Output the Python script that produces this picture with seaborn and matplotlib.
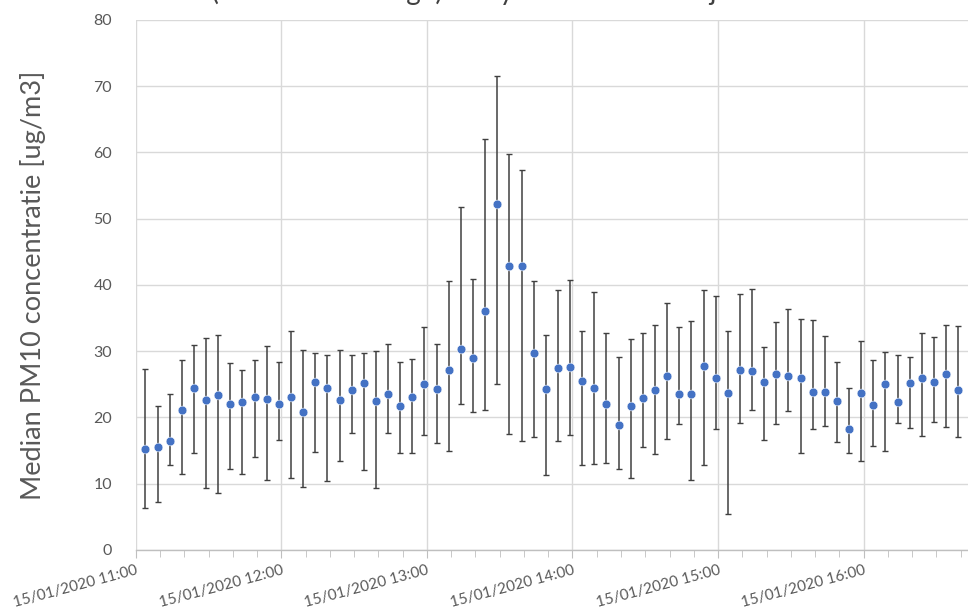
import numpy as np
import pandas as pd
import seaborn as sns
import matplotlib
matplotlib.use("Agg")
import matplotlib.pyplot as plt
import matplotlib.dates as mdates

sns.set_style("white")
plt.rcParams["font.family"] = ["Lato", "DejaVu Sans"]

# median PM10 per 5 minute interval, with the upper and lower end of each bar
medians = [15.3, 15.5, 16.5, 21.2, 24.5, 22.7, 23.4, 22.1, 22.4, 23.1, 22.8, 22.0,
           23.1, 20.8, 25.3, 24.5, 22.6, 24.2, 25.2, 22.5, 23.5, 21.7, 23.1, 25.1,
           24.3, 27.2, 30.4, 29.0, 36.0, 52.2, 42.8, 42.9, 29.8, 24.3, 27.5, 27.6,
           25.5, 24.5, 22.1, 18.8, 21.7, 23.0, 24.1, 26.2, 23.6, 23.5, 27.8, 25.9,
           23.7, 27.1, 27.0, 25.4, 26.6, 26.3, 26.0, 23.8, 23.8, 22.5, 18.3, 23.7,
           21.9, 25.1, 22.4, 25.2, 25.9, 25.3, 26.6, 24.1]
upper = [27.3, 21.8, 23.5, 28.7, 30.9, 32.0, 32.4, 28.2, 27.1, 28.7, 30.8, 28.3,
         33.1, 30.2, 29.8, 29.4, 30.2, 29.4, 29.8, 30.1, 31.1, 28.3, 28.8, 33.7,
         31.1, 40.6, 51.8, 40.9, 62.0, 71.5, 59.7, 57.3, 40.6, 32.4, 39.2, 40.8,
         33.0, 38.9, 32.7, 29.1, 31.9, 32.8, 33.9, 37.3, 33.6, 34.6, 39.2, 38.4,
         33.0, 38.6, 39.4, 30.6, 34.4, 36.3, 34.8, 34.7, 32.3, 28.3, 24.4, 31.5,
         28.7, 29.9, 29.5, 29.2, 32.7, 32.2, 33.9, 33.8]
lower = [6.4, 7.2, 12.9, 11.4, 14.7, 9.3, 8.6, 12.2, 11.4, 14.0, 10.5, 16.6,
         10.8, 9.5, 14.8, 10.4, 13.5, 17.6, 12.0, 9.4, 17.7, 14.7, 14.6, 17.3,
         16.1, 15.0, 22.1, 20.9, 21.1, 25.0, 17.5, 16.4, 17.1, 11.3, 16.5, 17.3,
         12.8, 13.0, 13.2, 12.2, 10.8, 15.6, 14.5, 16.7, 19.0, 10.6, 12.9, 18.3,
         5.5, 19.2, 21.1, 16.6, 19.0, 21.0, 14.6, 18.2, 18.7, 16.3, 14.6, 13.5,
         15.7, 15.0, 19.1, 18.4, 17.2, 19.3, 18.5, 17.0]

times = pd.date_range("2020-01-15 11:04", periods=len(medians), freq="5min")
df = pd.DataFrame({"tijd": times, "mediaan": medians, "hoog": upper, "laag": lower})

grey = "#595959"
fig = plt.figure(figsize=(9.68, 6.1), dpi=100)
ax = fig.add_axes([0.1402, 0.0984, 0.8598, 0.8689])

yerr = [df["mediaan"] - df["laag"], df["hoog"] - df["mediaan"]]
ax.errorbar(df["tijd"], df["mediaan"], yerr=yerr, fmt="none", ecolor="#404040",
            elinewidth=1.1, capsize=2.5, capthick=1.0, zorder=2)
sns.scatterplot(data=df, x="tijd", y="mediaan", ax=ax, color="#4472C4", s=40,
                edgecolor="white", linewidth=0.4, zorder=3)

ax.set_ylim(0, 80)
ax.set_yticks(range(0, 81, 10))
ax.set_xlim(pd.Timestamp("2020-01-15 11:00"), pd.Timestamp("2020-01-15 16:43"))
ax.xaxis.set_major_locator(mdates.HourLocator())
ax.xaxis.set_minor_locator(mdates.MinuteLocator(byminute=range(0, 60, 10)))
ax.xaxis.set_major_formatter(mdates.DateFormatter("%d/%m/%Y %H:%M"))

ax.grid(True, which="major", color="#d9d9d9", linewidth=1.0)
ax.set_axisbelow(True)
for s in ["top", "right", "left"]:
    ax.spines[s].set_visible(False)
ax.spines["bottom"].set_color("#bfbfbf")
ax.spines["bottom"].set_linewidth(1.0)

ax.tick_params(axis="x", which="both", direction="out", colors="#bfbfbf", labelcolor=grey,
               labelsize=11, bottom=True)
ax.tick_params(axis="x", which="major", length=6)
ax.tick_params(axis="x", which="minor", length=5)
ax.tick_params(axis="y", length=0, labelcolor=grey, labelsize=11.5, pad=17)
for lab in ax.get_xticklabels():
    lab.set_rotation(15)
    lab.set_ha("right")
    lab.set_va("top")
    lab.set_rotation_mode("anchor")

ax.set_xlabel("")
ax.set_ylabel("Median PM10 concentratie [ug/m3]", fontsize=19.5, color=grey, labelpad=34)

# title lies mostly above the visible area, as in the cropped original
fig.text(0.43, 1.0, "PM10 concentratie (mediaan en range) analyse meetdata 15 januari 2020",
         ha="center", va="baseline", fontsize=20, color="#404040")

fig.savefig("out.png", dpi=100)
